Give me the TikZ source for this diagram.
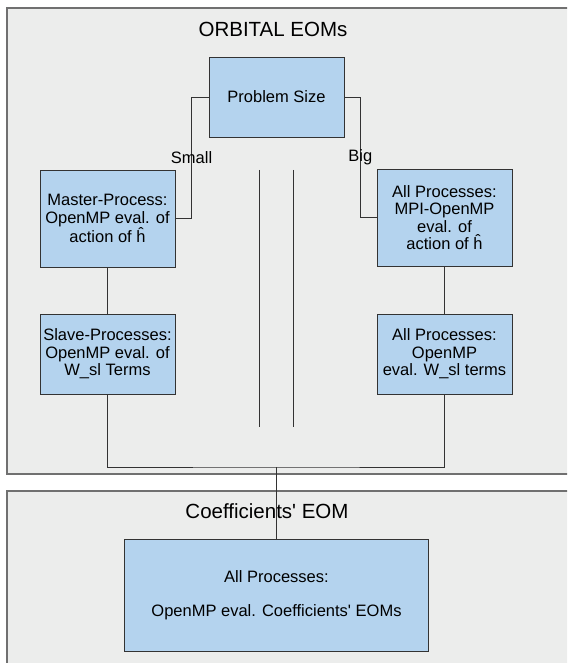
\documentclass[tikz,border=0pt]{standalone}
\usepackage{fontspec}
\setmainfont{Liberation Sans}
\usepackage{xcolor}
\usetikzlibrary{positioning,calc}

\definecolor{panelgray}{HTML}{ECEDEC}
\definecolor{paneledge}{HTML}{707070}
\definecolor{boxblue}{HTML}{B4D3EE}
\definecolor{boxedge}{HTML}{333333}

\tikzset{
    panel/.style={fill=panelgray, draw=paneledge, line width=1.2pt},
    procbox/.style={draw=boxedge, fill=boxblue, line width=0.8pt, align=center,
        minimum width=135pt, font=\fontsize{16.5}{17.5}\selectfont, inner sep=2pt},
    wire/.style={draw=boxedge, line width=0.8pt},
    paneltitle/.style={font=\fontsize{20.5}{22}\selectfont},
    branch/.style={font=\fontsize{16.5}{17.5}\selectfont}
}

\begin{document}
\begin{tikzpicture}[x=1pt, y=-1pt]
    \clip (0,0) rectangle (567,663);
    \fill[white] (0,0) rectangle (567,663);

    % Panels
    \draw[panel] (7,8) rectangle (590,474);
    \draw[panel] (7,491) rectangle (590,680);
    \node[paneltitle] (orbtitle) at (273,29) {ORBITAL EOMs};
    \node[paneltitle] (coeftitle) at (267,511) {Coefficients\textquotesingle{} EOM};

    % Boxes
    \node[procbox, minimum height=80pt] (size) at (276.5,97) {Problem Size};
    \node[procbox, minimum height=97pt] (master) at (107.5,218.5)
        {Master-Process:\\OpenMP eval. of\\action of \^{h}};
    \node[procbox, minimum height=97pt] (allmpi) at (444.5,217.5)
        {All Processes:\\MPI-OpenMP\\eval. of\\action of \^{h}};
    \node[procbox, minimum height=80pt] (slave) at (107.5,354)
        {Slave-Processes:\\OpenMP eval. of\\W\_sl Terms};
    \node[procbox, minimum height=80pt] (allomp) at (444.5,354)
        {All Processes:\\OpenMP\\eval. W\_sl terms};
    \node[procbox, minimum width=304pt, minimum height=112pt] (coef) at (276.5,595)
        {All Processes:\\[17pt]OpenMP eval. Coefficients\textquotesingle{} EOMs};

    % Connectors
    \draw[wire] (size.west) -- ++(-17,0) |- (master.east) node[branch, pos=0.25] {Small};
    \draw[wire] (size.east) -- ++(16,0) |- (allmpi.west) node[branch, pos=0.25] {Big};
    \draw[wire] (master) -- (slave);
    \draw[wire] (allmpi) -- (allomp);
    \coordinate (merge) at (276.5,467);
    \draw[wire] (slave.south) |- (merge) -| (allomp.south);
    \draw[wire] (merge) -- (coef.north);

    % Parallel bars
    \coordinate (barAtop) at (259,170);
    \coordinate (barAbot) at (259,427);
    \coordinate (barBtop) at (293,170);
    \coordinate (barBbot) at (293,427);
    \draw[wire] (barAtop) -- (barAbot);
    \draw[wire] (barBtop) -- (barBbot);
\end{tikzpicture}
\end{document}
